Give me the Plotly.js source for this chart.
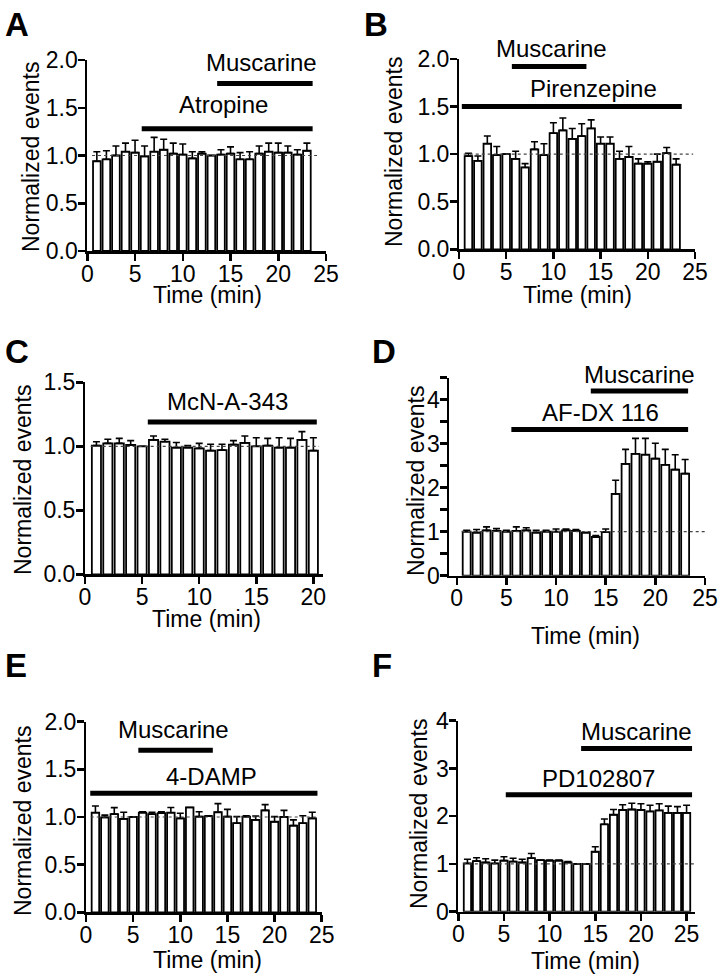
<!DOCTYPE html>
<html>
<head>
<meta charset="utf-8">
<script src="https://cdn.plot.ly/plotly-3.0.1.min.js"></script>
<style>html,body{margin:0;padding:0;background:#fff;}#chart{width:720px;height:976px;}</style>
</head>
<body>
<div id="chart"></div>
<script>
// ---------------- DATA ----------------
const timeA = [1,2,3,4,5,6,7,8,9,10,11,12,13,14,15,16,17,18,19,20,21,22,23];
const meanA = [0.94,0.96,1.00,1.04,1.03,0.99,1.04,1.06,1.02,1.01,0.97,1.02,1.00,1.01,1.02,0.96,0.96,1.02,1.04,1.03,1.03,1.01,1.05];
const semA  = [0.10,0.09,0.10,0.09,0.13,0.11,0.15,0.11,0.11,0.11,0.07,0.02,0.00,0.05,0.07,0.07,0.08,0.08,0.09,0.10,0.07,0.05,0.08];

const timeB = [1,2,3,4,5,6,7,8,9,10,11,12,13,14,15,16,17,18,19,20,21,22,23];
const meanB = [0.98,0.93,1.11,0.99,1.00,0.95,0.86,1.05,0.99,1.22,1.25,1.16,1.19,1.27,1.11,1.11,0.95,0.97,0.90,0.90,0.92,1.01,0.89];
const semB  = [0.03,0.05,0.08,0.09,0.00,0.08,0.04,0.08,0.12,0.11,0.13,0.11,0.13,0.09,0.07,0.07,0.08,0.11,0.05,0.02,0.08,0.06,0.06];

const timeC = [1,2,3,4,5,6,7,8,9,10,11,12,13,14,15,16,17,18,19,20];
const meanC = [1.005,1.023,1.023,1.010,1.000,1.050,1.036,0.990,0.990,0.984,0.966,0.970,1.013,1.026,1.000,1.005,0.990,0.990,1.050,0.966];
const semC  = [0.031,0.032,0.039,0.034,0.000,0.030,0.019,0.040,0.015,0.039,0.050,0.046,0.031,0.054,0.067,0.057,0.077,0.072,0.065,0.101];

const timeD = [1,2,3,4,5,6,7,8,9,10,11,12,13,14,15,16,17,18,19,20,21,22,23];
const meanD = [1.00,0.98,1.03,1.02,1.00,1.02,1.03,0.98,1.00,1.00,1.03,1.02,0.98,0.88,0.99,1.86,2.54,2.77,2.75,2.66,2.52,2.41,2.32];
const semD  = [0.03,0.07,0.08,0.05,0.03,0.09,0.06,0.05,0.03,0.06,0.03,0.03,0.00,0.03,0.07,0.31,0.33,0.35,0.37,0.35,0.35,0.34,0.32];

const timeE = [1,2,3,4,5,6,7,8,9,10,11,12,13,14,15,16,17,18,19,20,21,22,23,24];
const meanE = [1.045,0.996,1.030,0.980,1.000,1.045,1.030,1.040,1.045,0.986,1.100,1.004,1.010,1.050,1.004,0.935,1.004,0.970,1.070,0.950,1.000,0.910,0.935,0.986];
const semE  = [0.070,0.024,0.068,0.070,0.000,0.010,0.020,0.015,0.055,0.054,0.000,0.051,0.003,0.090,0.076,0.069,0.009,0.040,0.060,0.054,0.070,0.060,0.078,0.064];

const timeF = [1,2,3,4,5,6,7,8,9,10,11,12,13,14,15,16,17,18,19,20,21,22,23,24,25];
const meanF = [1.01,1.06,1.03,1.01,1.07,1.05,1.03,1.12,1.08,1.07,1.07,1.03,1.00,1.00,1.255,1.83,2.03,2.13,2.14,2.13,2.10,2.12,2.07,2.07,2.07];
const semF  = [0.09,0.07,0.08,0.07,0.08,0.07,0.07,0.10,0.00,0.01,0.01,0.02,0.00,0.00,0.105,0.11,0.11,0.11,0.13,0.13,0.13,0.14,0.14,0.13,0.16];

// drug application periods (min): name, start, end
const drugNames  = {A:['Muscarine','Atropine'], B:['Muscarine','Pirenzepine'], C:['McN-A-343'], D:['Muscarine','AF-DX 116'], E:['Muscarine','4-DAMP'], F:['Muscarine','PD102807']};
const drugStart  = {A:[13.6,5.7], B:[5.6,0.3], C:[5.5], D:[13.5,5.5], E:[5.55,0.45], F:[13.45,5.2]};
const drugEnd    = {A:[23.6,23.6], B:[13.5,23.6], C:[20.3], D:[23.3,23.3], E:[13.45,24.55], F:[25.6,25.6]};
const panelLetters = ['A','B','C','D','E','F'];
const xTitle = 'Time (min)';
const yTitle = 'Normalized events';

// ---------------- LAYOUT (positions / styles) ----------------
const W = 720, H = 976;
const FONT = 'Liberation Sans, Arial, Helvetica, sans-serif';
const FS = 23;
const panels = [
  {key:'A', t:timeA, m:meanA, s:semA, px:[87.3,326], py:[60,251],     xr:[0,25],     yr:[0,2],   ytv:[0,0.5,1,1.5,2], ytt:['0.0','0.5','1.0','1.5','2.0'], xtv:[0,5,10,15,20,25],
   lineY:[1.755,1.28], labY:[1.97,1.53], labX:[18.2,14.25], base:[0.5,24.3], xt:[208,295], yt:[31,157]},
  {key:'B', t:timeB, m:meanB, s:semB, px:[459,695],   py:[59,249.3],  xr:[0,25],     yr:[0,2],   ytv:[0,0.5,1,1.5,2], ytt:['0.0','0.5','1.0','1.5','2.0'], xtv:[0,5,10,15,20,25],
   lineY:[1.92,1.5], labY:[2.11,1.69], labX:[9.8,14.2], base:[0.5,24.8], xt:[577,295], yt:[394,152]},
  {key:'C', t:timeC, m:meanC, s:semC, px:[85,322.5],  py:[382.3,574.3], xr:[0,20.8], yr:[0,1.5], ytv:[0,0.5,1,1.5], ytt:['0.0','0.5','1.0','1.5'], xtv:[0,5,10,15,20],
   lineY:[1.19], labY:[1.35], labX:[12.5], base:[0.5,20.5], xt:[207,619], yt:[23,480]},
  {key:'D', t:timeD, m:meanD, s:semD, px:[449.3,705], py:[377.7,575.7], xr:[-0.75,25], yr:[0,4.5], ytv:[0,0.5,1,1.5,2,2.5,3,3.5,4,4.5], ytt:['0','','1','','2','','3','','4',''], xtv:[0,5,10,15,20,25],
   lineY:[4.2,3.32], labY:[4.58,3.71], labX:[18.4,14.5], base:[0.5,25], xt:[585,636], yt:[416,481]},
  {key:'E', t:timeE, m:meanE, s:semE, px:[86,321.7],  py:[721.7,912.3], xr:[0,25],   yr:[0,2],   ytv:[0,0.5,1,1.5,2], ytt:['0.0','0.5','1.0','1.5','2.0'], xtv:[0,5,10,15,20,25],
   lineY:[1.70,1.25], labY:[1.92,1.43], labX:[9.26,13.33], base:[0.5,24.5], xt:[208,960], yt:[23,821]},
  {key:'F', t:timeF, m:meanF, s:semF, px:[458.3,694.8], py:[720.7,911.7], xr:[0,25.9], yr:[0,4],   ytv:[0,1,2,3,4], ytt:['0','1','2','3','4'], xtv:[0,5,10,15,20,25],
   lineY:[3.42,2.45], labY:[3.77,2.79], labX:[19.49,15.4], base:[0.5,25.8], xt:[585,961], yt:[419,814]}
];
const letterPos = [[3,4],[362,4],[3,331],[370,331],[3,645],[370,645]];

const traces = [];
const layout = {
  width: W, height: H, margin:{l:0,r:0,t:0,b:0},
  paper_bgcolor:'#fff', plot_bgcolor:'rgba(0,0,0,0)',
  showlegend:false, font:{family:FONT, size:FS, color:'#000'},
  shapes:[], annotations:[]
};
const tickFont = {family:FONT, size:FS, color:'#000'};

panels.forEach((p, i) => {
  const n = i + 1;
  const xa = n === 1 ? 'x' : 'x' + n;
  const ya = n === 1 ? 'y' : 'y' + n;
  const xk = n === 1 ? 'xaxis' : 'xaxis' + n;
  const yk = n === 1 ? 'yaxis' : 'yaxis' + n;
  const xo = 'x' + (n + 6), yo = 'y' + (n + 6);
  traces.push({
    type:'bar', x:p.t, y:p.m, xaxis:xa, yaxis:ya, width:0.8,
    marker:{color:'#fff', line:{color:'#000', width:1.8}},
    error_y:{type:'data', symmetric:false, array:p.s, arrayminus:p.s.map(()=>0), color:'#000', thickness:1.6, width:3.5},
    hoverinfo:'skip'
  });
  const xdom = [p.px[0]/W, p.px[1]/W];
  const ydom = [1 - p.py[1]/H, 1 - p.py[0]/H];
  const axBase = {
    showline:true, linecolor:'#000', linewidth:2.5, ticks:'outside', ticklen:7, tickwidth:2.5, tickcolor:'#000',
    showgrid:false, zeroline:false, fixedrange:true, showticklabels:false
  };
  layout[xk] = Object.assign({}, axBase, {domain:xdom, range:p.xr, anchor:ya, tickmode:'array', tickvals:p.xtv});
  layout[yk] = Object.assign({}, axBase, {domain:ydom, range:p.yr, anchor:xa, tickmode:'array', tickvals:p.ytv});
  // label-carrying overlay axes (same scale), placed closer to the axis line
  const lblBase = {showline:false, showgrid:false, zeroline:false, fixedrange:true, ticks:'outside', ticklen:2,
    tickcolor:'rgba(0,0,0,0)', tickfont:tickFont, showticklabels:true};
  layout['xaxis' + (n + 6)] = Object.assign({}, lblBase, {domain:xdom, range:p.xr, anchor:ya, overlaying:xa,
    tickmode:'array', tickvals:p.xtv, ticktext:p.xtv.map(String)});
  layout['yaxis' + (n + 6)] = Object.assign({}, lblBase, {domain:ydom, range:p.yr, anchor:xa, overlaying:ya, ticklen:4,
    tickmode:'array', tickvals:p.ytv, ticktext:p.ytt});
  traces.push({type:'scatter', mode:'markers', x:[], y:[], xaxis:xo, yaxis:ya, hoverinfo:'skip'});
  traces.push({type:'scatter', mode:'markers', x:[], y:[], xaxis:xa, yaxis:yo, hoverinfo:'skip'});
  // axis titles
  layout.annotations.push({text:xTitle, xref:'paper', yref:'paper', x:p.xt[0]/W, y:1 - p.xt[1]/H,
    xanchor:'center', yanchor:'middle', showarrow:false, font:{family:FONT, size:FS, color:'#000'}});
  layout.annotations.push({text:yTitle, xref:'paper', yref:'paper', x:p.yt[0]/W, y:1 - p.yt[1]/H, textangle:-90,
    xanchor:'center', yanchor:'middle', showarrow:false, font:{family:FONT, size:FS, color:'#000'}});
  // dotted baseline at 1
  layout.shapes.push({type:'line', xref:xa, yref:ya, x0:p.base[0], x1:p.base[1], y0:1, y1:1, layer:'above',
    line:{color:'#444', width:1.2, dash:'dot'}});
  // drug application bars + labels
  const names = drugNames[p.key];
  const span = p.yr[1] - p.yr[0];
  names.forEach((nm, j) => {
    layout.shapes.push({type:'line', xref:xa, yref:ya, x0:drugStart[p.key][j], x1:drugEnd[p.key][j], y0:p.lineY[j], y1:p.lineY[j],
      line:{color:'#000', width:5}});
    layout.annotations.push({text:nm, xref:xa, yref:ya + ' domain', x:p.labX[j], y:(p.labY[j] - p.yr[0]) / span, showarrow:false,
      xanchor:'center', yanchor:'middle', font:{family:FONT, size:24, color:'#000'}});
  });
  // panel letter
  layout.annotations.push({text:'<b>'+panelLetters[i]+'</b>', xref:'paper', yref:'paper',
    x:letterPos[i][0]/W, y:1 - letterPos[i][1]/H, xanchor:'left', yanchor:'top', showarrow:false,
    font:{family:FONT, size:33, color:'#000'}});
});

Plotly.newPlot('chart', traces, layout, {staticPlot:true, displayModeBar:false});
</script>
</body>
</html>
